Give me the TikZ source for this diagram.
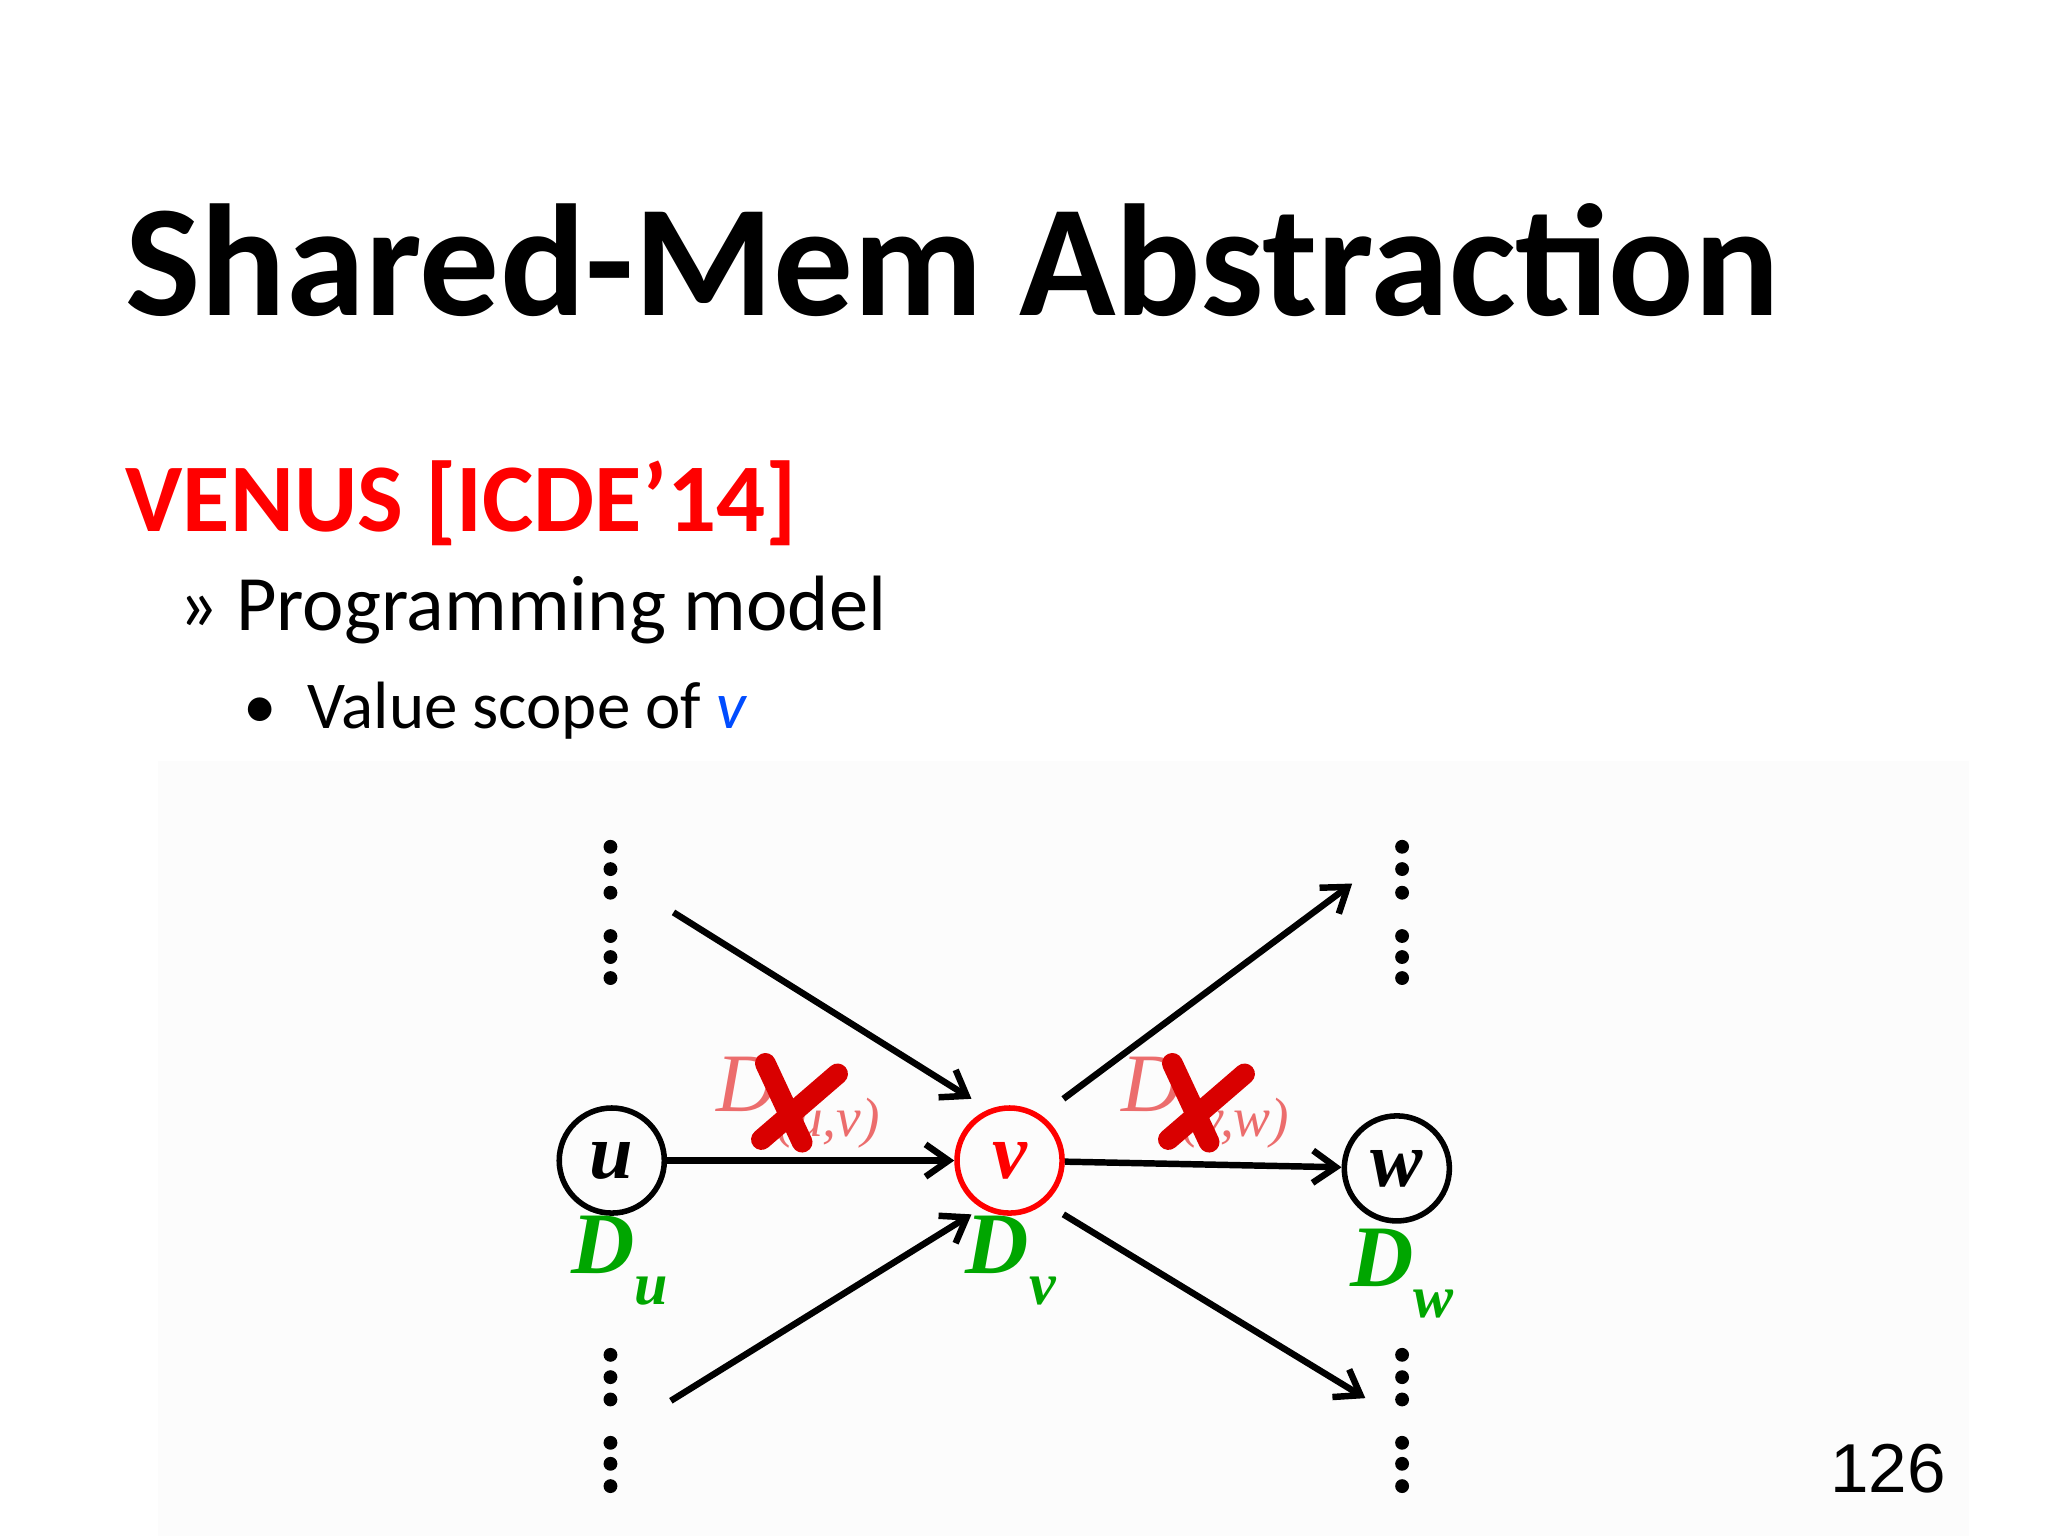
\documentclass[tikz,border=0pt]{standalone}
\usepackage{fontspec}
\usetikzlibrary{arrows.meta}
\setsansfont{Carlito}
\setmainfont{Liberation Serif}
\newfontfamily\arialf{Liberation Sans}
\begin{document}
\begin{tikzpicture}[x=0.01cm,y=-0.01cm,
  vert/.style={circle,draw,line width=1.2pt,minimum size=0.8cm,inner sep=0pt,font=\bfseries\itshape\fontsize{17}{17}\selectfont},
  dlab/.style={text=green!65!black,font=\bfseries\itshape\fontsize{19}{19}\selectfont},
  arr/.style={-{Straight Barb[length=5pt,width=7pt]},line width=1.4pt},
  dotc/.style={fill=black,circle,inner sep=0pt,minimum size=3pt},
  xl/.style={text=red!45!pink!85!gray,font=\itshape\fontsize{18}{18}\selectfont}]
\useasboundingbox[fill=white] (0,0) rectangle (1560,1170);
\fill[gray!2] (120,580) rectangle (1500,1170);
\node[anchor=base west,inner sep=0,font=\sffamily\bfseries\fontsize{34.5}{34}\selectfont] (title) at (95,240) {Shared-Mem Abstraction};
\node[anchor=base west,inner sep=0,text=red,font=\sffamily\bfseries\fontsize{21}{21}\selectfont] (venus) at (95,405) {VENUS [ICDE’14]};
\node[anchor=base west,inner sep=0,font=\sffamily\fontsize{17}{17}\selectfont] (pm) at (135,480) {» Programming model};
\node[anchor=base west,inner sep=0,font=\sffamily\fontsize{14.5}{14.5}\selectfont] (vs) at (185,555) {•\ \ Value scope of \textcolor{blue!70!cyan}{\textit{v}}};
\node[vert] (u) at (466,884) {u};
\node[vert,draw=red,text=red] (v) at (769,884) {v};
\node[vert] (w) at (1064,890) {w};
\node[dlab] (du) at (472,960) {D\raisebox{-0.35em}{\fontsize{13}{13}\selectfont u}};
\node[dlab] (dv) at (770,960) {D\raisebox{-0.35em}{\fontsize{13}{13}\selectfont v}};
\node[dlab] (dw) at (1068,970) {D\raisebox{-0.35em}{\fontsize{13}{13}\selectfont w}};
\foreach \x in {465,1068}{
 \foreach \y in {645,662,680,713,729,745,1032,1049,1066,1099,1115,1132}
  \node[dotc] at (\x,\y) {};}
\coordinate (s1) at (513,695); \coordinate (s3) at (511,1067);
\coordinate (e4) at (1030,673); \coordinate (e6) at (1040,1065);
\draw[arr] (s1) -- (740,837);
\draw[arr] (u) -- (v);
\draw[arr] (s3) -- (740,925);
\draw[arr] (810,837) -- (e4);
\draw[arr] (v) -- (w);
\draw[arr] (810,925) -- (e6);
\node[xl] (duv) at (608,840) {D\raisebox{-0.3em}{\fontsize{12}{12}\selectfont (u,v)}};
\node[xl] (dvw) at (918,840) {D\raisebox{-0.3em}{\fontsize{12}{12}\selectfont (v,w)}};
\foreach \c in {608,918}{
 \draw[red!85!black,line width=4.5pt,line cap=round] (\c-25,810) -- (\c+3,870);
 \draw[red!85!black,line width=4.5pt,line cap=round] (\c+30,818) -- (\c-28,868);}
\node[anchor=base,inner sep=0,font=\arialf\fontsize{15}{15}\selectfont] (pg) at (1438,1137) {126};
\end{tikzpicture}
\end{document}
